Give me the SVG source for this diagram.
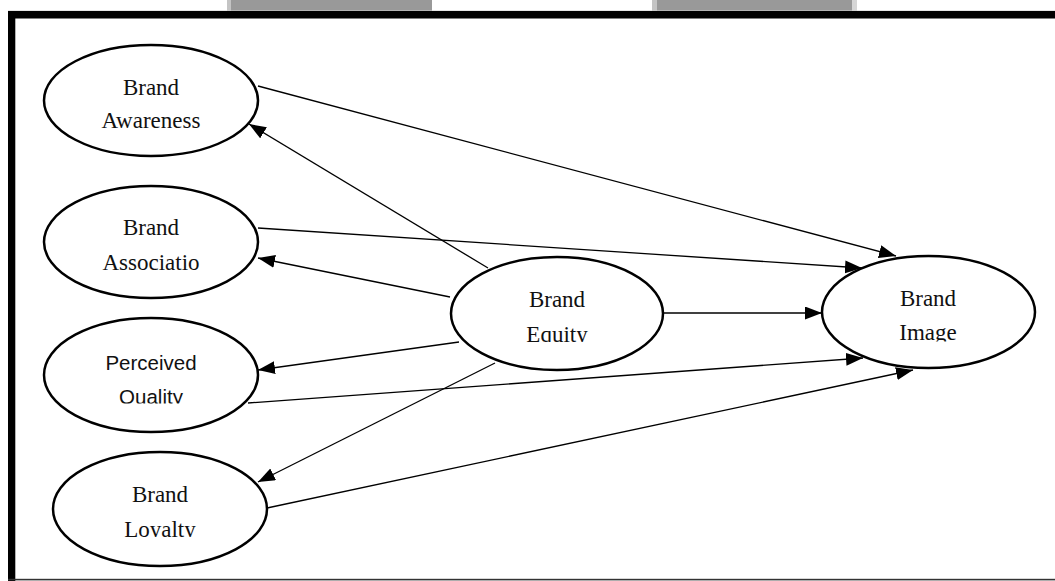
<svg xmlns="http://www.w3.org/2000/svg" width="1055" height="581" viewBox="0 0 1055 581">
<style>
.node ellipse{fill:#fff;stroke:#000;stroke-width:2.5}
.t{font-family:"Liberation Serif","Times New Roman",serif;font-size:23px;fill:#111;text-anchor:middle}
.s{font-family:"Liberation Sans",Arial,sans-serif;font-size:20.5px;fill:#111;text-anchor:middle}
.edge{stroke:#000;stroke-width:1.3;fill:none;marker-end:url(#ah)}
</style>
<defs>
<marker id="ah" markerUnits="userSpaceOnUse" markerWidth="18" markerHeight="14" refX="17" refY="6.5" orient="auto">
<path d="M0,0 L17,6.5 L0,13 z" fill="#000"/>
</marker>
<clipPath id="cEq"><rect x="450" y="250" width="220" height="92"/></clipPath>
<clipPath id="cIm"><rect x="820" y="250" width="220" height="91.5"/></clipPath>
<clipPath id="cQu"><rect x="40" y="310" width="220" height="93.5"/></clipPath>
<clipPath id="cLo"><rect x="50" y="450" width="220" height="87"/></clipPath>
</defs>
<rect width="1055" height="581" fill="#fff"/>
<g id="frame">
<rect x="227" y="0" width="205" height="11" fill="#999"/>
<rect x="227" y="0" width="4" height="11" fill="#c4c4c4"/>
<rect x="652" y="0" width="205" height="11" fill="#999"/>
<rect x="652" y="0" width="5" height="11" fill="#c4c4c4"/>
<rect x="852" y="0" width="5" height="11" fill="#d6d6d6"/>
<rect x="8" y="10.5" width="1047" height="0.8" fill="#ccc"/>
<rect x="8" y="11" width="1047" height="7.5" fill="#000"/>
<rect x="8" y="11" width="7.3" height="570" fill="#000"/>
<rect x="8" y="578.8" width="1047" height="1.6" fill="#333"/>
</g>
<g id="connectors">
<line class="edge" x1="258" y1="86" x2="896" y2="256"/>
<line class="edge" x1="258" y1="228" x2="862" y2="268"/>
<line class="edge" x1="663" y1="313" x2="822" y2="313"/>
<line class="edge" x1="248" y1="403" x2="863" y2="358"/>
<line class="edge" x1="267" y1="508" x2="913" y2="370"/>
<line class="edge" x1="488" y1="268" x2="249" y2="124"/>
<line class="edge" x1="450" y1="297" x2="258" y2="258"/>
<line class="edge" x1="459" y1="342" x2="258" y2="370"/>
<line class="edge" x1="495" y1="363" x2="258" y2="482"/>
</g>
<g id="brand-awareness" class="node">
<ellipse cx="151" cy="100.5" rx="107" ry="55.5"/>
<text class="t" x="151" y="95">Brand</text>
<text class="t" x="151" y="128">Awareness</text>
</g>
<g id="brand-association" class="node">
<ellipse cx="151" cy="242" rx="107" ry="56"/>
<text class="t" x="151" y="235">Brand</text>
<text class="t" x="151" y="270">Associatio</text>
</g>
<g id="perceived-quality" class="node">
<ellipse cx="151" cy="375" rx="107" ry="57"/>
<text class="s" x="151" y="370">Perceived</text>
<text class="s" x="151" y="404" clip-path="url(#cQu)">Quality</text>
</g>
<g id="brand-loyalty" class="node">
<ellipse cx="160" cy="509" rx="107" ry="57"/>
<text class="t" x="160" y="502">Brand</text>
<text class="t" x="160" y="537" clip-path="url(#cLo)">Loyalty</text>
</g>
<g id="brand-equity" class="node">
<ellipse cx="557" cy="313.5" rx="106" ry="56.5"/>
<text class="t" x="557" y="307">Brand</text>
<text class="t" x="557" y="342" clip-path="url(#cEq)">Equity</text>
</g>
<g id="brand-image" class="node">
<ellipse cx="928.5" cy="312" rx="106.5" ry="56"/>
<text class="t" x="928" y="306">Brand</text>
<text class="t" x="928" y="340" clip-path="url(#cIm)">Image</text>
</g>
</svg>
